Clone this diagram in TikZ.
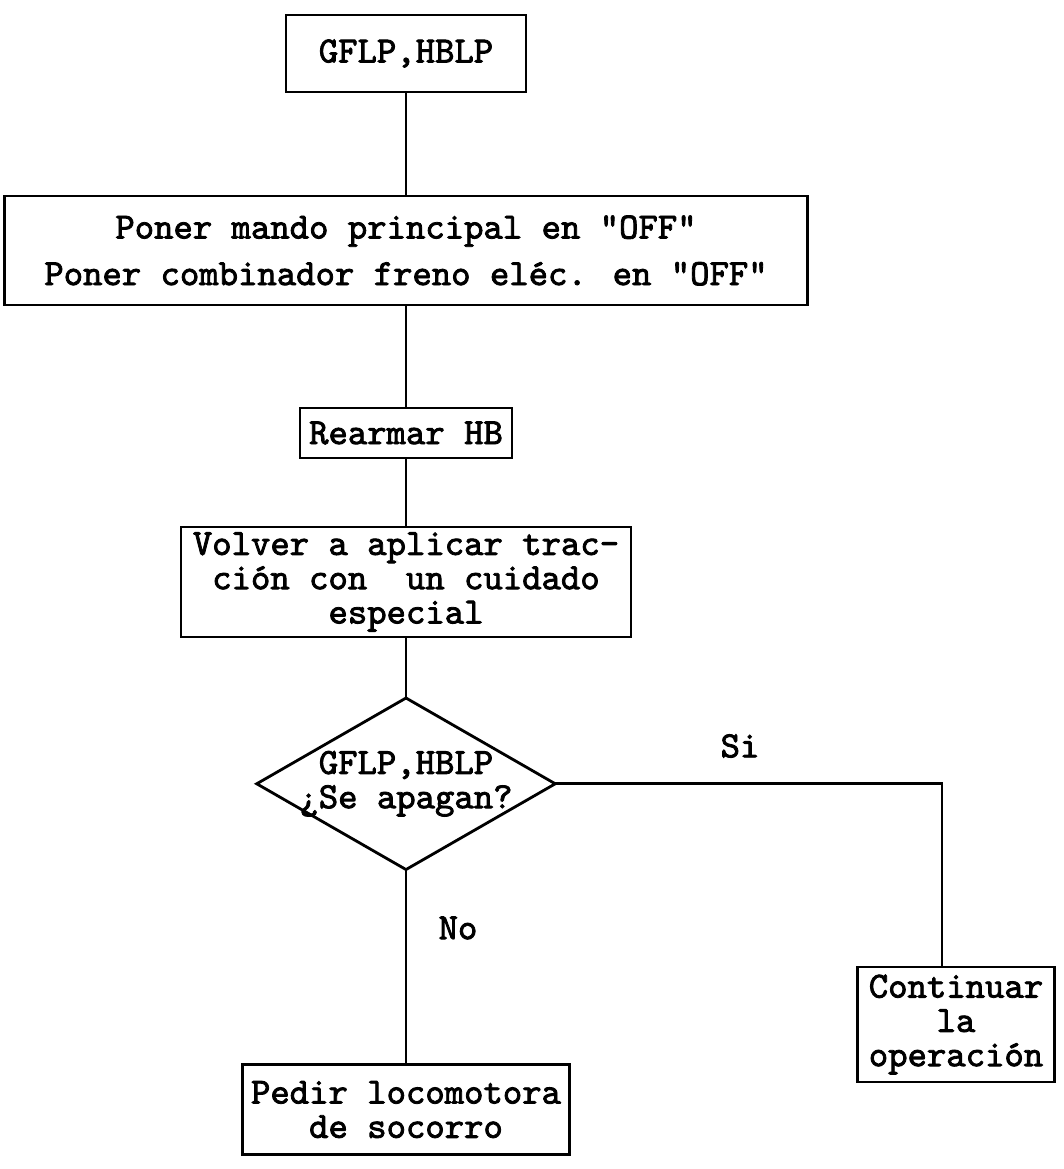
\documentclass[tikz,border=0pt]{standalone}
\usepackage{fontspec}
\newfontfamily\maquina{lmmono10-regular.otf}[FakeBold=2.2]
\usetikzlibrary{positioning,shapes.geometric}

\begin{document}
\begin{tikzpicture}[
        paso/.style={
            draw=black,
            line width=1.6pt,
            outer sep=0pt,
            align=center,
            inner sep=0pt,
            font=\maquina\fontsize{21}{19.5}\selectfont
        },
        pregunta/.style={
            paso,
            diamond,
            aspect=1.74,
            inner sep=-3pt
        },
        rotulo/.style={
            font=\maquina\fontsize{21}{19.5}\selectfont
        },
        enlace/.style={
            line width=1.6pt,
            draw=black
        }
    ]
    \useasboundingbox (0,0) rectangle (21.28,-23.38);

    \node[paso, minimum width=4.8cm, minimum height=1.54cm] (luces) at (8.12,-1.07) {GFLP,HBLP};
    \node[paso, minimum width=16.06cm, minimum height=2.18cm, below=2.08cm of luces] (mandos) {Poner mando principal en "OFF"\\[7pt]Poner combinador freno eléc. en "OFF"};
    \node[paso, minimum width=4.24cm, minimum height=1cm, below=2.06cm of mandos] (rearmar) {Rearmar HB};
    \node[paso, minimum width=9cm, minimum height=2.2cm, below=1.38cm of rearmar] (traccion) {Volver a aplicar trac-\\ción con\ \ un cuidado\\especial};
    \node[pregunta, minimum width=5.94cm, minimum height=3.42cm, below=1.22cm of traccion] (apagan) {GFLP,HBLP\\¿Se apagan?};
    \node[paso, minimum width=6.54cm, minimum height=1.8cm, below=3.9cm of apagan] (socorro) {Pedir locomotora\\de socorro};
    \node[paso, minimum width=3.94cm, minimum height=2.3cm] (continuar) at (19.12,-20.49) {Continuar\\la\\operación};

    \node[rotulo] (si) at (14.8,-14.92) {Si};
    \node[rotulo] (no) at (9.16,-18.56) {No};

    \draw[enlace] (luces) -- (mandos);
    \draw[enlace] (mandos) -- (rearmar);
    \draw[enlace] (rearmar) -- (traccion);
    \draw[enlace] (traccion) -- (apagan);
    \draw[enlace] (apagan) -- (socorro);
    \draw[enlace] (apagan.east) -| ([xshift=-0.28cm]continuar.north);
\end{tikzpicture}
\end{document}
